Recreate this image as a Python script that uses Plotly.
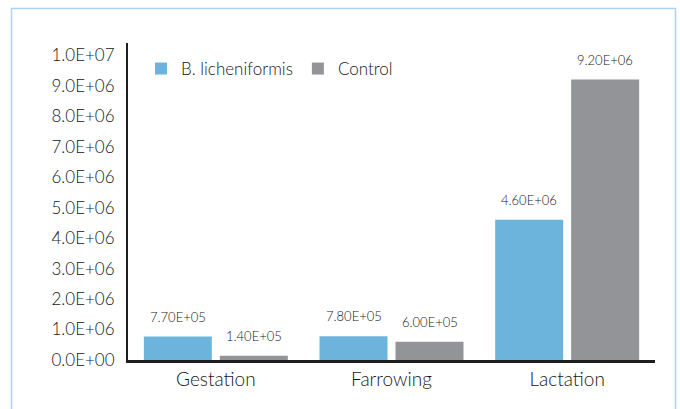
import plotly.graph_objects as go

categories = ["Gestation", "Farrowing", "Lactation"]
b_lich = [7.7e5, 7.8e5, 4.6e6]
control = [1.4e5, 6.0e5, 9.2e6]
series_names = ["B. licheniformis", "Control"]
tick_vals = [i * 1e6 for i in range(11)]
tick_text = [f"{v:.1E}" for v in tick_vals]

colors = ["#6cb4dc", "#939497"]
FONT = "Lato"
TXT = "#161616"
WT = 300

W, H = 680, 409
L, R, T, B = 128, 25, 43, 49
pw, ph = W - L - R, H - T - B

fig = go.Figure()
for name, vals, c in zip(series_names, [b_lich, control], colors):
    fig.add_trace(go.Bar(x=categories, y=vals, name=name, marker=dict(color=c, line=dict(width=0))))

# value labels
annotations = []
for i, vals in enumerate([b_lich, control]):
    for cat, v in zip(categories, vals):
        annotations.append(dict(
            x=cat, y=v, xref="x", yref="y", text=f"{v:.2E}", showarrow=False,
            xshift=(i - 0.5) * 76, yshift=10, yanchor="bottom",
            font=dict(family=FONT, size=13, color=TXT, weight=WT)))

def px_x(p):
    return (p - L) / pw

def px_y(p):
    return (H - B - p) / ph

fig.update_layout(
    width=W, height=H,
    margin=dict(l=L, r=R, t=T, b=B, pad=0),
    paper_bgcolor="white", plot_bgcolor="white",
    barmode="group", bargap=0.135, bargroupgap=0.105,
    font=dict(family=FONT, color=TXT, weight=WT),
    showlegend=True,
    legend=dict(orientation="h", x=px_x(141), y=px_y(51), xanchor="left", yanchor="top",
                font=dict(family=FONT, size=17, color=TXT, weight=WT), bgcolor="rgba(0,0,0,0)",
                itemwidth=30, traceorder="normal"),
    annotations=annotations,
    shapes=[dict(type="rect", xref="paper", yref="paper",
                 x0=px_x(11.5), x1=px_x(675.5), y0=px_y(420), y1=px_y(8.5),
                 line=dict(color="#a9d5f0", width=1.5), fillcolor="rgba(0,0,0,0)", layer="below")],
    xaxis=dict(showline=True, linecolor="#1e1e1e", linewidth=2.5, showgrid=False, ticks="",
               tickfont=dict(family=FONT, size=19, color=TXT, weight=WT), zeroline=False),
    yaxis=dict(range=[0, 1.04e7], tickvals=tick_vals, ticktext=tick_text, showline=True,
               linecolor="#1e1e1e", linewidth=2, showgrid=False, ticks="", zeroline=False,
               ticklabelstandoff=8,
               tickfont=dict(family=FONT, size=17, color=TXT, weight=WT)),
)

fig.write_html("out.html")
